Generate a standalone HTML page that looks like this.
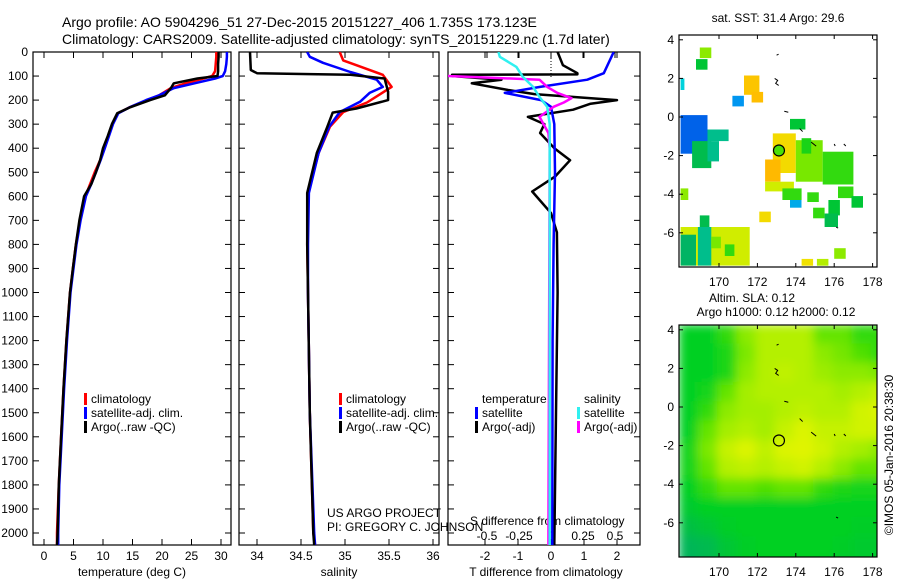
<!DOCTYPE html>
<html>
<head>
<meta charset="utf-8">
<style>
html,body{margin:0;padding:0;background:#fff;}
svg{display:block;font-family:"Liberation Sans",sans-serif;}
</style>
</head>
<body>
<svg id="chart" width="900" height="580" viewBox="0 0 900 580" xmlns="http://www.w3.org/2000/svg">
<defs>
<clipPath id="c1"><rect x="33" y="52" width="198" height="493"/></clipPath>
<clipPath id="c2"><rect x="239" y="52" width="200" height="493"/></clipPath>
<clipPath id="c3"><rect x="448" y="52" width="192" height="493"/></clipPath>
<clipPath id="cm1"><rect x="679" y="35" width="198" height="232"/></clipPath>
<clipPath id="cm2"><rect x="679" y="325" width="198" height="232"/></clipPath>
<filter id="blur" x="0" y="0" width="1" height="1"><feGaussianBlur stdDeviation="5" edgeMode="duplicate"/></filter>
</defs>
<text x="62" y="27" font-size="14">Argo profile: AO 5904296_51 27-Dec-2015 20151227_406 1.735S 173.123E</text>
<text x="62" y="44" font-size="14">Climatology: CARS2009. Satellite-adjusted climatology: synTS_20151229.nc (1.7d later)</text>
<g id="g"></g>
</svg>
<script>
// ---------- profile data ----------
const tDepth=[0,20,50,80,100,110,130,150,180,200,230,255,300,350,400,450,500,550,600,700,800,900,1000,1200,1400,1600,1800,2000,2050];
const tArgo=[29.6,29.6,29.5,29.5,29.4,26,22,21.5,20.5,18,14.6,12.4,11.5,10.8,10,9.5,8.8,8,6.8,6.0,5.4,4.9,4.4,3.8,3.3,2.9,2.5,2.3,2.2];
const tClim=[29.2,29.2,29.1,29,28.5,27,24,21.5,19.5,17.5,14.5,12.5,11.6,10.9,10.2,9.5,8.6,7.8,7,6.1,5.4,4.9,4.4,3.8,3.3,2.9,2.5,2.2,2.2];
const tSat=[31,31,30.9,30.7,30.3,29,25.5,22,19.5,17.3,14.5,12.6,11.7,11,10.3,9.6,8.8,8,7.1,6.2,5.5,5,4.5,3.9,3.4,3.0,2.6,2.4,2.4];

const sArgoDepth=[0,75,88,92,95,110,165,200,235,252,310,420,586,800,1000,1500,2000,2050];
const sArgo=[33.92,33.93,34.0,34.6,35.06,35.45,35.49,35.49,35.13,34.86,34.8,34.68,34.57,34.57,34.58,34.6,34.64,34.65];
const sClimDepth=[0,35,55,95,145,210,250,310,420,586,800,1000,1500,2000,2050];
const sClim=[34.94,34.98,35.13,35.43,35.53,35.25,34.98,34.83,34.7,34.58,34.57,34.58,34.6,34.64,34.66];
const sSatDepth=[0,20,45,83,115,145,170,207,250,310,420,586,800,1000,1500,2000,2050];
const sSat=[34.57,34.6,34.75,35.06,35.36,35.43,35.28,35.17,34.94,34.82,34.7,34.59,34.58,34.58,34.6,34.65,34.66];

const dTSatDepth=[0,88,115,145,170,200,228,300,500,800,1200,2050];
const dTSat=[1.9,1.6,1.1,-0.33,-1.4,-0.3,0,0.1,0.12,0.08,0.05,0.04];
const dTArgoDepth=[0,55,88,93,95,100,115,130,158,175,200,215,240,270,300,337,400,450,518,580,670,750,1000,1500,2050];
const dTArgo=[0.2,0.36,0.8,0.8,-3,-3,-1.5,-2.4,-1.3,-0.5,2,1.2,0.67,-0.7,-0.2,-0.33,0.1,0.58,0.12,-0.57,0,0.18,0.2,0.15,0.1];
const dSArgoDepth=[95,100,115,145,170,192,210,228,270,337,400,2050];
const dSArgo=[-0.8,-0.8,-0.09,-0.03,0.05,0.16,0.1,0.02,-0.09,-0.02,-0.01,-0.02];
const dSSatDepth=[0,20,62,103,145,187,228,300,600,2050];
const dSSat=[-0.41,-0.4,-0.27,-0.22,-0.14,-0.09,-0.03,-0.01,-0.01,-0.01];

const depthTicks=[0,100,200,300,400,500,600,700,800,900,1000,1100,1200,1300,1400,1500,1600,1700,1800,1900,2000];
const tTicks=[0,5,10,15,20,25,30];
const sTicks=[34,34.5,35,35.5,36];
const dTTicks=[-2,-1,0,1,2];
const dSTicks=[-0.5,-0.25,0,0.25,0.5];
const dSTickLabels=["-0.5","-0.25","0","0.25","0.5"];

// ---------- SST map cells: [lon0, lat0(top), lon1, lat1(bottom), sst] ----------
const sstLon0=[169.0,168.8,168.0,171.3,171.7,170.7,168.0,169.4,168.6,169.4,172.8,172.4,172.4,173.7,174.0,174.3,175.4,176.2,176.9,173.3,173.7,174.6,175.7,174.9,175.5,172.1,169.0,168.0,168.0,168.9,176.0,174.3,175.1,168.0,169.6,170.3];
const sstLat0=[3.6,3.0,2.0,2.15,1.3,1.1,0.1,-0.65,-1.25,-1.25,-0.85,-2.2,-3.35,-0.1,-1.2,-1.1,-1.8,-3.6,-4.1,-3.7,-4.3,-3.9,-4.3,-4.7,-5.0,-4.9,-5.1,-3.7,-5.7,-5.7,-6.8,-7.35,-7.35,-6.1,-6.2,-6.6];
const sstLon1=[169.6,169.4,168.2,172.1,172.3,171.3,169.4,170.5,169.6,170.0,174.0,173.2,173.9,174.5,175.4,174.8,177.0,177.0,177.5,174.3,174.3,175.2,176.3,175.5,176.2,172.7,169.5,168.4,171.6,169.6,176.6,174.9,175.7,168.8,170.1,170.8];
const sstLat1=[3.05,2.45,1.4,1.15,0.75,0.55,-1.9,-1.25,-2.65,-2.3,-2.9,-3.35,-3.85,-0.65,-3.35,-1.9,-3.5,-4.2,-4.7,-4.3,-4.7,-4.4,-5.1,-5.25,-5.7,-5.45,-5.7,-4.3,-7.7,-7.7,-7.35,-7.7,-7.7,-7.7,-6.8,-7.2];
const sstVal=[29.9,29.2,28.7,31.1,31.2,28.4,28.1,28.9,29.1,28.9,30.8,31.3,30.3,29.2,29.8,29.4,29.5,29.5,29.2,29.5,28.5,29.5,29.2,29.5,29.1,30.8,29.1,29.9,30.3,28.9,29.9,30.7,30.1,29.0,29.8,29.5];
const argoLon=173.123, argoLat=-1.735, argoSST=29.6;

// ---------- SLA map grid (rows top->bottom, 1 degree cells) ----------
const slaLonStart=167.9;
const slaLatStart=4.3;
const slaRow0=[1,1,1.5,2.5,3,3,3,2,2,1.5,1.5];
const slaRow1=[1,1,1.3,2.3,3,3,3,2.5,2.2,1.8,1.5];
const slaRow2=[1,1,1.3,2.5,3,3.2,3,2.7,2.5,2.5,2.3];
const slaRow3=[1,1.2,2,2.8,3,3,3,3,2.8,3,3.3];
const slaRow4=[1,1.5,2.5,2.8,2.8,3,3.2,3,3,3.5,3.7];
const slaRow5=[1,2,2.8,3,2.8,3.3,3.7,3.3,3.3,3.5,3.5];
const slaRow6=[1.2,2.3,3.3,3.7,3.2,3.7,3.8,3.5,3,2.8,2.5];
const slaRow7=[1.2,2,3,3.2,3,3.3,3.5,3,2.5,2,2];
const slaRow8=[1,1.5,2,2,1.8,2,2,1.5,1.3,1.2,1.2];
const slaRow9=[0.8,1,1,1,1,1,1,1,1,1,1];
const slaRow10=[0.5,0.7,0.9,1,1,1,1,1,1,0.9,0.9];
const slaRow11=[0.2,0.3,0.7,0.9,1,1,1,1,0.9,0.8,0.8];
const slaRow12=[0.1,0.3,0.7,0.9,1,1,1,0.9,0.8,0.8,0.8];
const slaRows=[slaRow0,slaRow1,slaRow2,slaRow3,slaRow4,slaRow5,slaRow6,slaRow7,slaRow8,slaRow9,slaRow10,slaRow11,slaRow12];

const mapLonTicks=[170,172,174,176,178];
const mapLatTicks=[4,2,0,-2,-4,-6];

// ---------- helpers ----------
const NS="http://www.w3.org/2000/svg";
const root=document.getElementById('g');
function mk(tag,attrs,parent){const e=document.createElementNS(NS,tag);for(const k in attrs)e.setAttribute(k,attrs[k]);(parent||root).appendChild(e);return e;}
const yD=d=>52+d*0.2405;
const xT=v=>44+v*5.9;
const xS=v=>257+(v-34)*88;
const xDT=v=>551+v*33;
const xDS=v=>551+v*128;
const mx=lon=>719+(lon-170)*19.2;
const my1=lat=>117-lat*19.3;
const my2=lat=>407-lat*19.3;

function series(depths,vals,xf,color,clip,name){
  const pts=depths.map((d,i)=>xf(vals[i]).toFixed(1)+','+yD(d).toFixed(1)).join(' ');
  const p=mk('polyline',{points:pts,fill:'none',stroke:color,'stroke-width':2.5,'stroke-linejoin':'round','clip-path':'url(#'+clip+')'});
  
  
}
function txt(x,y,s,size,anchor,name){
  const t=mk('text',{x:x,y:y,'font-size':size,'text-anchor':anchor||'start'});
  t.textContent=s;
  
  
  return t;
}

// ---------- panel frames & ticks ----------
const panels=[[33,231,'temperature-panel'],[239,439,'salinity-panel'],[448,640,'difference-panel']];
panels.forEach(p=>{
  const r=mk('rect',{x:p[0],y:52,width:p[1]-p[0],height:493,fill:'none',stroke:'#000','stroke-width':1.2});
  
  
  depthTicks.forEach(d=>{
    const a=mk('line',{x1:p[0],x2:p[0]+6,y1:yD(d),y2:yD(d),stroke:'#000'});
    
    
    const b=mk('line',{x1:p[1]-6,x2:p[1],y1:yD(d),y2:yD(d),stroke:'#000'});
    
    
  });
});
depthTicks.forEach(d=>txt(28,yD(d)+4,String(d),12,'end','depth-tick-label'));
function xticks(ticks,labels,xf,ylab,name){
  ticks.forEach((v,i)=>{
    const x=xf(v);
    const a=mk('line',{x1:x,x2:x,y1:545,y2:539,stroke:'#000'});
    
    
    const b=mk('line',{x1:x,x2:x,y1:52,y2:58,stroke:'#000'});
    
    
    txt(x,ylab,labels[i],12,'middle',name+'-tick-label');
  });
}
xticks(tTicks,tTicks.map(String),xT,560,'temperature');
xticks(sTicks,sTicks.map(String),xS,560,'salinity');
xticks(dTTicks,dTTicks.map(String),xDT,560,'t-difference');
dSTicks.forEach((v,i)=>{
  const b=mk('line',{x1:xDS(v),x2:xDS(v),y1:52,y2:58,stroke:'#000'});
  
  
  txt(xDS(v),540,dSTickLabels[i],12,'middle','s-difference-tick-label');
});
txt(132,576,'temperature (deg C)',12,'middle','temperature-axis-title');
txt(339,576,'salinity',12,'middle','salinity-axis-title');
txt(546,576,'T difference from climatology',12,'middle','t-difference-axis-title');
txt(470,525,'S difference from climatology',12,'start','s-difference-axis-title');
txt(327,517,'US ARGO PROJECT',12,'start','project-label');
txt(327,531,'PI: GREGORY C. JOHNSON',12,'start','pi-label');

// zero dotted line in diff panel
const z=mk('line',{x1:551,x2:551,y1:52,y2:78,stroke:'#000','stroke-dasharray':'1,2'});



// ---------- series ----------
series(tDepth,tClim,xT,'#ff0000','c1','temperature-climatology-line');
series(tDepth,tSat,xT,'#0000ff','c1','temperature-satellite-line');
series(tDepth,tArgo,xT,'#000000','c1','temperature-argo-line');
series(sClimDepth,sClim,xS,'#ff0000','c2','salinity-climatology-line');
series(sSatDepth,sSat,xS,'#0000ff','c2','salinity-satellite-line');
series(sArgoDepth,sArgo,xS,'#000000','c2','salinity-argo-line');
series(dTArgoDepth,dTArgo,xDT,'#000000','c3','t-diff-argo-line');
series(dTSatDepth,dTSat,xDT,'#0000ff','c3','t-diff-satellite-line');
series(dSArgoDepth,dSArgo,xDS,'#ff00ff','c3','s-diff-argo-line');
series(dSSatDepth,dSSat,xDS,'#30f0f0','c3','s-diff-satellite-line');

// ---------- legends ----------
function legend(bx,tx,y,color,label,name){
  const b=mk('rect',{x:bx,y:y-10,width:3,height:12,fill:color});
  
  
  txt(tx,y,label,12,'start',name);
}
legend(84,91,403,'#ff0000','climatology','legend-entry-climatology');
legend(84,91,417,'#0000ff','satellite-adj. clim.','legend-entry-satellite');
legend(84,91,431,'#000000','Argo(..raw -QC)','legend-entry-argo');
legend(339,346,403,'#ff0000','climatology','legend-entry-climatology-2');
legend(339,346,417,'#0000ff','satellite-adj. clim.','legend-entry-satellite-2');
legend(339,346,431,'#000000','Argo(..raw -QC)','legend-entry-argo-2');
txt(482,403,'temperature',12,'start','legend-header-temperature');
txt(584,403,'salinity',12,'start','legend-header-salinity');
legend(475,482,417,'#0000ff','satellite','legend-entry-t-satellite');
legend(475,482,431,'#000000','Argo(-adj)','legend-entry-t-argo');
legend(577,584,417,'#30f0f0','satellite','legend-entry-s-satellite');
legend(577,584,431,'#ff00ff','Argo(-adj)','legend-entry-s-argo');

// ---------- colour scales ----------
function lerpStops(stops,v){
  if(v<=stops[0][0])return stops[0][1];
  for(let i=1;i<stops.length;i++){
    if(v<=stops[i][0]){
      const a=stops[i-1],b=stops[i],t=(v-a[0])/(b[0]-a[0]);
      const c=a[1].map((x,k)=>Math.round(x+(b[1][k]-x)*t));
      return 'rgb('+c.join(',')+')';
    }
  }
  const l=stops[stops.length-1][1];return 'rgb('+l.join(',')+')';
}
const sstStops=[[28.0,[0,80,230]],[28.4,[0,150,240]],[28.7,[0,210,220]],[29.0,[0,180,100]],[29.3,[0,205,30]],[29.7,[100,230,0]],[30.2,[200,240,0]],[30.7,[240,225,0]],[31.2,[255,190,0]],[31.6,[255,170,0]]];
const slaStops=[[0,[0,176,100]],[1,[0,208,32]],[2,[100,228,0]],[3,[180,240,0]],[4,[235,245,0]]];
function sstColor(v){const s=lerpStops(sstStops,v);return s.startsWith('rgb(')?s:'rgb('+s.join(',')+')';}
function slaColor(v){const s=lerpStops(slaStops,v);return s.startsWith('rgb(')?s:'rgb('+s.join(',')+')';}

// ---------- maps ----------
function mapFrame(y0,yf,name){
  const r=mk('rect',{x:679,y:y0,width:198,height:232,fill:'none',stroke:'#000','stroke-width':1.2});
  
  
  mapLonTicks.forEach(l=>{
    const x=mx(l);
    const a=mk('line',{x1:x,x2:x,y1:y0+232,y2:y0+228,stroke:'#000'});
    
    
    const b=mk('line',{x1:x,x2:x,y1:y0,y2:y0+4,stroke:'#000'});
    
    
    txt(x,y0+251,String(l),12,'middle',name+'-lon-label');
  });
  mapLatTicks.forEach(l=>{
    const y=yf(l);
    const a=mk('line',{x1:679,x2:683,y1:y,y2:y,stroke:'#000'});
    
    
    const b=mk('line',{x1:873,x2:877,y1:y,y2:y,stroke:'#000'});
    
    
    txt(674,y+4,String(l),12,'end',name+'-lat-label');
  });
}
// SST cells
const sstG=mk('g',{'clip-path':'url(#cm1)'});


sstVal.forEach((v,i)=>{
  const x0=mx(sstLon0[i]),x1=mx(sstLon1[i]),y0=my1(sstLat0[i]),y1=my1(sstLat1[i]);
  const r=mk('rect',{x:x0.toFixed(1),y:y0.toFixed(1),width:(x1-x0).toFixed(1),height:(y1-y0).toFixed(1),fill:sstColor(v)},sstG);
  
  
});
const ac=mk('circle',{cx:mx(argoLon),cy:my1(argoLat),r:5.5,fill:sstColor(argoSST),stroke:'#000','stroke-width':1.2});


mapFrame(35,my1,'sst-map');
txt(778,22,'sat. SST: 31.4 Argo: 29.6',12,'middle','sst-map-title');

// SLA grid
const slaG=mk('g',{'clip-path':'url(#cm2)'});


const slaInner=mk('g',{filter:'url(#blur)'},slaG);
slaRows.forEach((row,j)=>{
  row.forEach((v,i)=>{
    const lon=slaLonStart+i, lat=slaLatStart-j;
    const r=mk('rect',{x:mx(lon).toFixed(1),y:my2(lat).toFixed(1),width:19.8,height:19.9,fill:slaColor(v)},slaInner);
    
    
  });
});
const ac2=mk('circle',{cx:mx(argoLon),cy:my2(argoLat),r:5.5,fill:'none',stroke:'#000','stroke-width':1.2});


// coast fragments
[[my1,'sst'],[my2,'sla']].forEach(([yf,n])=>{
  const c=mk('path',{d:'M'+mx(173)+','+yf(3.2)+' l2,-1 M'+mx(172.9)+','+yf(2)+' l3,2 l-2,3 l3,2 M'+mx(173.4)+','+yf(0.3)+' l4,1 M'+mx(174.2)+','+yf(-0.6)+' l3,3 M'+mx(174.8)+','+yf(-1.3)+' l5,4 M'+mx(176)+','+yf(-1.4)+' l1,2 M'+mx(176.5)+','+yf(-1.4)+' l2,2 M'+mx(176.1)+','+yf(-5.7)+' l2,1',fill:'none',stroke:'#000','stroke-width':1});
  
  
});
mapFrame(325,my2,'sla-map');
txt(752,302,'Altim. SLA: 0.12',12,'middle','sla-map-title');
txt(776,316,'Argo h1000: 0.12 h2000: 0.12',12,'middle','sla-map-subtitle');
const im=txt(0,0,'©IMOS 05-Jan-2016 20:38:30',12,'middle','imos-timestamp');
im.setAttribute('transform','translate(893,455) rotate(-90)');
</script>
</body>
</html>
